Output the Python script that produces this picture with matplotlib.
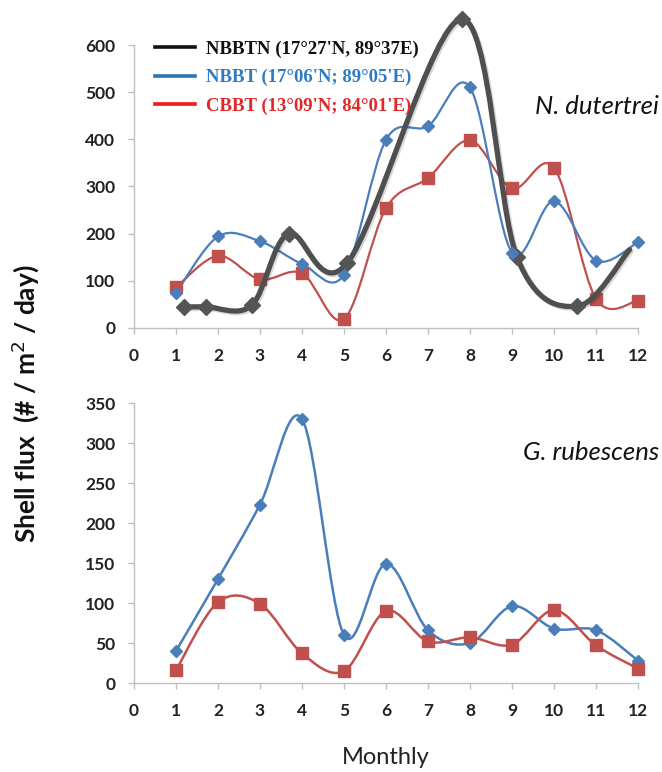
import matplotlib

matplotlib.use("Agg")
import matplotlib.pyplot as plt
import matplotlib.patheffects as pe
from matplotlib.lines import Line2D
from matplotlib.patches import PathPatch
from matplotlib.path import Path
import numpy as np

plt.rcParams["font.family"] = ["Lato", "DejaVu Sans"]

# ---- data ----
months = list(range(1, 13))

# N. dutertrei
nbbtn_x = [1.2, 1.72, 2.8, 3.68, 5.08, 7.8, 9.12, 10.55, 11.8]
nbbtn_y = [45, 45, 48, 200, 138, 655, 150, 46, 166]
nd_nbbt = [74, 194, 184, 136, 113, 399, 428, 510, 160, 269, 143, 182]
nd_cbbt = [86, 153, 103, 116, 19, 254, 318, 398, 296, 340, 62, 58]

# G. rubescens
gr_nbbt = [40, 130, 223, 330, 60, 149, 66, 50, 96, 68, 66, 28]
gr_cbbt = [16, 101, 99, 37, 15, 90, 52, 57, 48, 91, 47, 18]

x_ticks = list(range(0, 13))
top_yticks = [0, 100, 200, 300, 400, 500, 600]
bot_yticks = [0, 50, 100, 150, 200, 250, 300, 350]

legend_labels = ["NBBTN (17°27'N, 89°37E)", "NBBT (17°06'N; 89°05'E)", "CBBT (13°09'N; 84°01'E)"]

BLUE = "#4A7EBB"
RED = "#C0504D"
DARK = "#4f4f4f"
SPINE = "#BFBFBF"
TICK_TXT = "#222222"


def smooth_path(xs, ys):
    """Excel-style smoothed line: cubic Bezier segments through the points."""
    p = np.column_stack([xs, ys]).astype(float)
    n = len(p)
    verts = [p[0]]
    codes = [Path.MOVETO]
    for i in range(n - 1):
        p0 = p[i - 1] if i > 0 else p[i]
        p1, p2 = p[i], p[i + 1]
        p3 = p[i + 2] if i + 2 < n else p[i + 1]
        c1 = p1 + (p2 - p0) / 6.0
        c2 = p2 - (p3 - p1) / 6.0
        verts += [c1, c2, p2]
        codes += [Path.CURVE4] * 3
    return Path(verts, codes)


def smooth_line(ax, xs, ys, color, lw, zorder, effects=None):
    patch = PathPatch(smooth_path(xs, ys), fill=False, edgecolor=color, lw=lw,
                      zorder=zorder, clip_on=False, capstyle="round", joinstyle="round")
    if effects:
        patch.set_path_effects(effects)
    ax.add_patch(patch)


def style_axes(ax, ymax, yticks):
    ax.set_xlim(0, 12)
    ax.set_ylim(0, ymax)
    ax.set_xticks(x_ticks)
    ax.set_yticks(yticks)
    for s in ("top", "right"):
        ax.spines[s].set_visible(False)
    for s in ("left", "bottom"):
        ax.spines[s].set_color(SPINE)
        ax.spines[s].set_linewidth(1.0)
    ax.tick_params(axis="both", direction="out", color=SPINE, length=4.5, width=1.0,
                   labelsize=12.5, labelcolor=TICK_TXT)
    ax.tick_params(axis="x", pad=10)
    ax.tick_params(axis="y", pad=9)
    for lab in ax.get_xticklabels() + ax.get_yticklabels():
        lab.set_fontweight("bold")


fig = plt.figure(figsize=(6.62, 7.72), dpi=100)
ax1 = fig.add_axes([134 / 662, 1 - 328 / 772, 504 / 662, 283 / 772])
ax2 = fig.add_axes([134 / 662, 1 - 683 / 772, 504 / 662, 280 / 772])

# ---- top panel: N. dutertrei ----
style_axes(ax1, 600, top_yticks)
smooth_line(ax1, months, nd_cbbt, RED, 1.6, 3)
ax1.plot(months, nd_cbbt, ls="none", marker="s", ms=8, color=RED, zorder=4, clip_on=False)
smooth_line(ax1, months, nd_nbbt, BLUE, 1.6, 3)
ax1.plot(months, nd_nbbt, ls="none", marker="D", ms=6.5, color=BLUE, zorder=6, clip_on=False)
shadow = [pe.SimpleLineShadow(offset=(1.2, -1.2), alpha=0.15), pe.Normal()]
smooth_line(ax1, nbbtn_x, nbbtn_y, DARK, 3.8, 5, shadow)
ax1.plot(nbbtn_x[:-1], nbbtn_y[:-1], ls="none", marker="D", ms=8, color="#555555",
         zorder=5, clip_on=False)
fig.text(0.995, 1 - 107 / 772, "N. dutertrei", ha="right", va="center",
         fontsize=18.5, fontstyle="italic", color="#111111")

# ---- bottom panel: G. rubescens ----
style_axes(ax2, 350, bot_yticks)
smooth_line(ax2, months, gr_nbbt, BLUE, 1.8, 3)
ax2.plot(months, gr_nbbt, ls="none", marker="D", ms=6.5, color=BLUE, zorder=4, clip_on=False)
smooth_line(ax2, months, gr_cbbt, RED, 1.8, 5)
ax2.plot(months, gr_cbbt, ls="none", marker="s", ms=8, color=RED, zorder=6, clip_on=False)
fig.text(0.995, 1 - 453 / 772, "G. rubescens", ha="right", va="center",
         fontsize=18.5, fontstyle="italic", color="#111111")

# ---- legend (top left) ----
handles = [Line2D([], [], color="#111111", lw=2.6),
           Line2D([], [], color="#2E75B6", lw=2.6),
           Line2D([], [], color="#F01818", lw=2.6)]
leg = fig.legend(handles, legend_labels, loc="upper left",
                 bbox_to_anchor=(146 / 662, 1 - 31 / 772), bbox_transform=fig.transFigure,
                 frameon=False, borderpad=0, handlelength=2.1, handletextpad=0.6,
                 labelspacing=0.6, prop={"family": "Liberation Serif", "weight": "bold",
                                         "size": 13.5})
for txt, col in zip(leg.get_texts(), ["#111111", "#2E7BC4", "#E02828"]):
    txt.set_color(col)

# ---- axis titles ----
fig.text(25 / 662, 1 - 404 / 772, "Shell flux  (# / m$^2$ / day)", rotation=90,
         ha="center", va="center", fontsize=19, fontweight="bold", color="#111111")
fig.text(386 / 662, 1 - 757 / 772, "Monthly", ha="center", va="center",
         fontsize=17, color="#222222")

fig.savefig("out.png", dpi=100)
